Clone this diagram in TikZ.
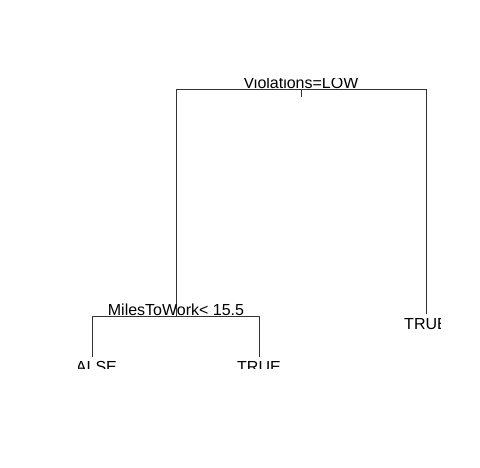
\documentclass[tikz,border=0pt]{standalone}
\usepackage{fontspec}
\setmainfont{Liberation Sans}
\begin{document}
\begin{tikzpicture}[x=1pt,y=-1pt,
  lbl/.style={font=\fontsize{16}{19}\selectfont, inner sep=0pt, anchor=base, text=black},
  br/.style={draw=black!80, line width=0.8pt}]
\useasboundingbox[fill=white] (0,0) rectangle (480,467);
% branch points
\coordinate (rt) at (301,89);
\coordinate (rtick) at (301,97);
\coordinate (rl) at (176,89);
\coordinate (rr) at (426,89);
\coordinate (lc) at (176,316);
\coordinate (lcl) at (92,316);
\coordinate (lcr) at (259,316);
\coordinate (leafR) at (426,314);
\coordinate (leafLL) at (92,357);
\coordinate (leafLR) at (259,357);
% branches
\draw[br] (rl) -- (rr);
\draw[br] (rt) -- (rtick);
\draw[br] (rl) -- (lc);
\draw[br] (rr) -- (leafR);
\draw[br] (lcl) -- (lcr);
\draw[br] (lcl) -- (leafLL);
\draw[br] (lcr) -- (leafLR);
% labels (clipped as in the plot region)
\begin{scope}
\clip (78,78) rectangle (440,368);
\node[lbl] (root) at (301,88) {Violations=LOW};
\node[lbl] (miles) at (176,315) {MilesToWork< 15.5};
\node[lbl] (lfalse) at (92,372.5) {FALSE};
\node[lbl] (ltrue) at (259,372.5) {TRUE};
\node[lbl] (rtrue) at (426,329) {TRUE};
\end{scope}
\end{tikzpicture}
\end{document}
